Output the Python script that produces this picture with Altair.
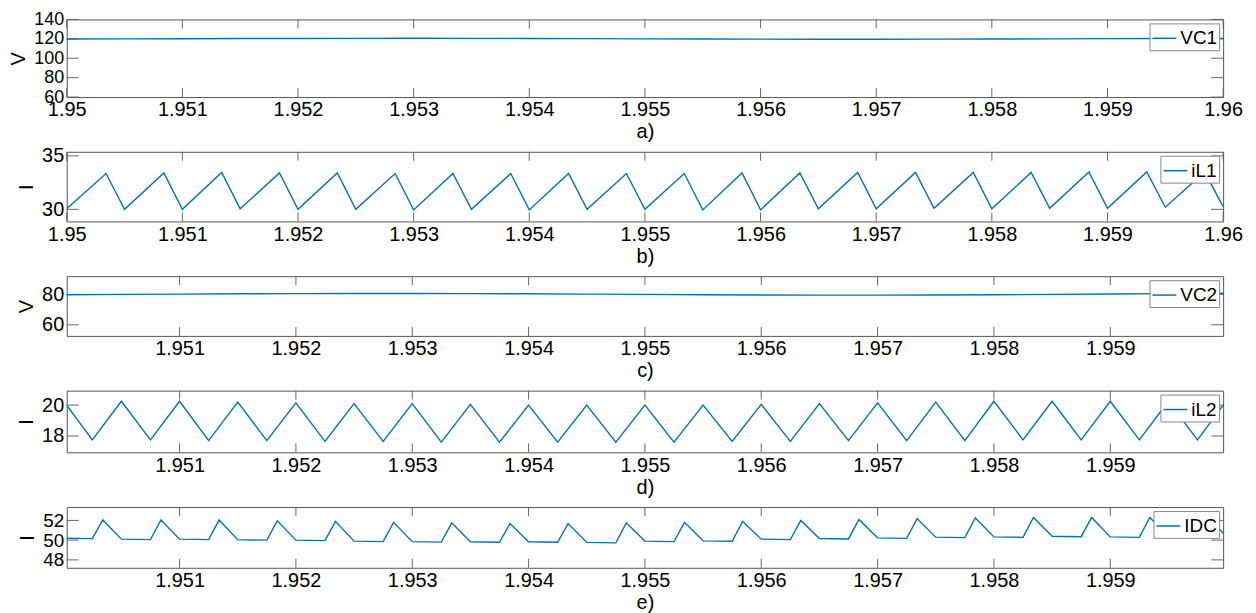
import altair as alt
import pandas as pd

BLUE = "#0072BD"
TICK = "#666666"

# ---------------- data ----------------
# a) VC1 (V)
vc1_t = [1.9500, 1.9505, 1.9510, 1.9515, 1.9520, 1.9525, 1.9530, 1.9535, 1.9540, 1.9545, 1.9550,
         1.9555, 1.9560, 1.9565, 1.9570, 1.9575, 1.9580, 1.9585, 1.9590, 1.9595, 1.9600]
vc1_v = [119.8, 120.0, 120.1, 120.3, 120.4, 120.5, 120.6, 120.5, 120.4, 120.2, 120.0,
         119.8, 119.7, 119.6, 119.6, 119.7, 119.8, 120.0, 120.2, 120.3, 120.4]

# b) iL1 (I)
il1_t = [1.95000, 1.95034, 1.95050, 1.95084, 1.95100, 1.95134, 1.95150, 1.95184, 1.95200, 1.95234,
         1.95250, 1.95284, 1.95300, 1.95334, 1.95350, 1.95384, 1.95400, 1.95434, 1.95450, 1.95484,
         1.95500, 1.95534, 1.95550, 1.95584, 1.95600, 1.95634, 1.95650, 1.95684, 1.95700, 1.95734,
         1.95750, 1.95784, 1.95800, 1.95834, 1.95850, 1.95884, 1.95900, 1.95934, 1.95950, 1.95984,
         1.96000]
il1_v = [30.05, 33.35, 30.00, 33.40, 30.00, 33.45, 30.05, 33.40, 30.00, 33.40,
         30.00, 33.35, 29.95, 33.35, 30.00, 33.35, 29.95, 33.35, 30.00, 33.35,
         30.00, 33.35, 29.95, 33.40, 29.95, 33.40, 30.05, 33.45, 30.05, 33.45,
         30.10, 33.45, 30.05, 33.45, 30.10, 33.50, 30.10, 33.50, 30.20, 33.50,
         30.25]

# c) VC2 (V)
vc2_t = vc1_t
vc2_v = [79.8, 80.0, 80.2, 80.4, 80.5, 80.6, 80.6, 80.5, 80.4, 80.2, 80.0,
         79.8, 79.6, 79.5, 79.5, 79.6, 79.8, 80.0, 80.3, 80.5, 80.8]

# d) iL2 (I)
il2_t = [1.95000, 1.95025, 1.95050, 1.95075, 1.95100, 1.95125, 1.95150, 1.95175, 1.95200, 1.95225,
         1.95250, 1.95275, 1.95300, 1.95325, 1.95350, 1.95375, 1.95400, 1.95425, 1.95450, 1.95475,
         1.95500, 1.95525, 1.95550, 1.95575, 1.95600, 1.95625, 1.95650, 1.95675, 1.95700, 1.95725,
         1.95750, 1.95775, 1.95800, 1.95825, 1.95850, 1.95875, 1.95900, 1.95925, 1.95950, 1.95975,
         1.96000]
il2_v = [20.30, 17.75, 20.25, 17.75, 20.25, 17.70, 20.20, 17.70, 20.15, 17.65,
         20.10, 17.65, 20.10, 17.60, 20.05, 17.60, 20.00, 17.60, 20.00, 17.60,
         20.00, 17.60, 20.00, 17.65, 20.05, 17.65, 20.10, 17.70, 20.15, 17.70,
         20.20, 17.70, 20.25, 17.75, 20.25, 17.75, 20.25, 17.75, 20.25, 17.75,
         20.30]

# e) IDC (I)
idc_t = [1.95000, 1.95025, 1.95034, 1.95050, 1.95075, 1.95084, 1.95100, 1.95125, 1.95134,
         1.95150, 1.95175, 1.95184, 1.95200, 1.95225, 1.95234, 1.95250, 1.95275, 1.95284,
         1.95300, 1.95325, 1.95334, 1.95350, 1.95375, 1.95384, 1.95400, 1.95425, 1.95434,
         1.95450, 1.95475, 1.95484, 1.95500, 1.95525, 1.95534, 1.95550, 1.95575, 1.95584,
         1.95600, 1.95625, 1.95634, 1.95650, 1.95675, 1.95684, 1.95700, 1.95725, 1.95734,
         1.95750, 1.95775, 1.95784, 1.95800, 1.95825, 1.95834, 1.95850, 1.95875, 1.95884,
         1.95900, 1.95925, 1.95934, 1.95950, 1.95975, 1.95984, 1.96000]
idc_v = [50.20, 50.15, 52.05, 50.10, 50.05, 52.05, 50.10, 50.05, 52.05,
         50.05, 50.00, 51.95, 50.00, 49.95, 51.90, 49.90, 49.85, 51.80,
         49.85, 49.80, 51.75, 49.83, 49.78, 51.68, 49.83, 49.78, 51.68,
         49.77, 49.72, 51.75, 49.90, 49.85, 51.80, 49.93, 49.88, 51.90,
         50.10, 50.05, 52.00, 50.17, 50.12, 52.10, 50.23, 50.18, 52.18,
         50.30, 50.25, 52.25, 50.33, 50.28, 52.30, 50.40, 50.35, 52.30,
         50.33, 50.28, 52.30, 50.35, 50.30, 52.30, 50.35]

series_names = ["VC1", "iL1", "VC2", "iL2", "IDC"]
y_titles = ["V", "I", "V", "I", "I"]
captions = ["a)", "b)", "c)", "d)", "e)"]

x_ticks_full = [1.950, 1.951, 1.952, 1.953, 1.954, 1.955, 1.956, 1.957, 1.958, 1.959, 1.960]
x_ticks_inner = [1.951, 1.952, 1.953, 1.954, 1.955, 1.956, 1.957, 1.958, 1.959]
x_dom_full = [1.950, 1.960]
x_dom_inner = [1.95003, 1.95997]

y_ticks = [[60, 80, 100, 120, 140], [30, 35], [60, 80], [18, 20], [48, 50, 52]]
y_doms = [[60, 140], [28.87, 35.38], [52.7, 92], [16.94, 20.94], [47.2, 53.35]]

W = 1162
heights = [78, 70, 60, 62, 61]
y_label_sizes = [18, 20, 20, 20, 19]


def panel(i, ts, vs, xdom, xticks):
    h = heights[i]
    df = pd.DataFrame({"t": ts, "v": vs, "s": series_names[i]})
    xs = alt.Scale(domain=xdom, nice=False, zero=False)
    ys = alt.Scale(domain=y_doms[i], nice=False, zero=False)
    x_axis = alt.Axis(values=xticks, title=captions[i], format=".4~f")
    y_axis = alt.Axis(values=y_ticks[i], title=y_titles[i], labelFontSize=y_label_sizes[i])
    xt = pd.DataFrame({"t": xticks})
    yt = pd.DataFrame({"v": y_ticks[i]})
    X = alt.X("t:Q", scale=xs, axis=x_axis)
    Y = alt.Y("v:Q", scale=ys, axis=y_axis)
    top = alt.Chart(xt).mark_rule(color=TICK, strokeWidth=1).encode(
        x=X, y=alt.value(0), y2=alt.value(9))
    bot = alt.Chart(xt).mark_rule(color=TICK, strokeWidth=1).encode(
        x=X, y=alt.value(h), y2=alt.value(h - 9))
    left = alt.Chart(yt).mark_rule(color=TICK, strokeWidth=1).encode(
        y=Y, x=alt.value(0), x2=alt.value(12))
    right = alt.Chart(yt).mark_rule(color=TICK, strokeWidth=1).encode(
        y=Y, x=alt.value(W), x2=alt.value(W - 12))
    line = alt.Chart(df).mark_line(clip=True, strokeWidth=1.4).encode(
        x=X, y=Y,
        color=alt.Color("s:N", scale=alt.Scale(range=[BLUE]),
                        legend=alt.Legend(title=None, orient="top-right")))
    return alt.layer(top, bot, left, right, line).properties(width=W, height=h)


panels = [
    panel(0, vc1_t, vc1_v, x_dom_full, x_ticks_full),
    panel(1, il1_t, il1_v, x_dom_full, x_ticks_full),
    panel(2, vc2_t, vc2_v, x_dom_inner, x_ticks_inner),
    panel(3, il2_t, il2_v, x_dom_inner, x_ticks_inner),
    panel(4, idc_t, idc_v, x_dom_inner, x_ticks_inner),
]

chart = alt.vconcat(*panels, spacing=55, bounds="flush").resolve_scale(
    x="independent", y="independent", color="independent"
).resolve_legend(color="independent").properties(
    padding={"left": 0, "top": 0, "right": 5, "bottom": 5},
    background="white",
).configure(font="Liberation Sans").configure_view(
    stroke="#555555", strokeWidth=1
).configure_axis(
    domain=False, ticks=False, grid=False,
    labelFontSize=20, labelColor="#000000", labelPadding=3,
    labelFlush=False, labelOverlap=False,
    titleFontSize=20, titleFontWeight="normal", titleColor="#000000",
).configure_axisX(titlePadding=2).configure_axisY(titlePadding=5, labelPadding=3).configure_legend(
    offset=4, padding=2, strokeColor="#888888", fillColor="white",
    labelFontSize=19, labelColor="#000000", symbolType="stroke", symbolSize=576,
    symbolStrokeWidth=1.5, labelOffset=3, cornerRadius=0,
)

chart.save("out.html", embed_options={"renderer": "svg", "actions": False})
